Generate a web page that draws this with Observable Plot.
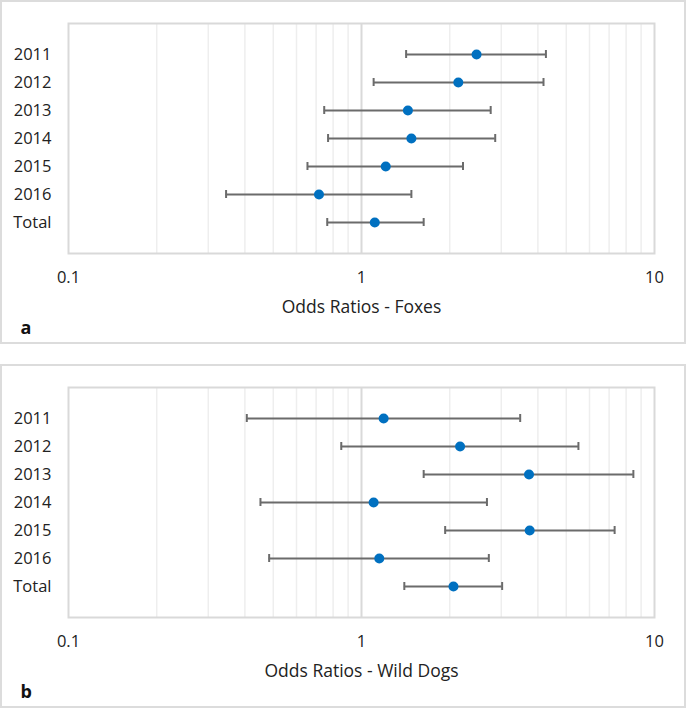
<!DOCTYPE html>
<html>
<head>
<meta charset="utf-8">
<script src="https://cdn.jsdelivr.net/npm/d3@7"></script>
<script src="https://cdn.jsdelivr.net/npm/@observablehq/plot@0.6"></script>
<style>
  html, body { margin: 0; padding: 0; background: #fff; }
  #wrap { position: relative; width: 686px; height: 708px; font-family: "Open Sans", sans-serif; }
  .panel { position: absolute; left: 0; width: 686px; height: 344px; box-sizing: border-box; border: 2px solid #dcdcdc; overflow: visible; }
  .panel svg { position: absolute; left: -2px; top: -2px; max-width: none !important; width: 686px; height: 344px; }
</style>
</head>
<body>
<div id="wrap">
  <div class="panel" id="pa" style="top:0px"></div>
  <div class="panel" id="pb" style="top:364px"></div>
</div>
<script>
const categories = ["2011", "2012", "2013", "2014", "2015", "2016", "Total"];

const foxOR   = [2.47, 2.14, 1.44, 1.48, 1.21, 0.716, 1.11];
const foxLow  = [1.42, 1.10, 0.746, 0.769, 0.654, 0.345, 0.764];
const foxHigh = [4.26, 4.18, 2.76, 2.86, 2.22, 1.48, 1.63];

const dogOR   = [1.19, 2.17, 3.73, 1.10, 3.75, 1.15, 2.06];
const dogLow  = [0.406, 0.853, 1.63, 0.452, 1.93, 0.484, 1.40];
const dogHigh = [3.48, 5.50, 8.47, 2.68, 7.31, 2.72, 3.02];

const majorTicks = [0.1, 1, 10];
const minorGrid = [0.2, 0.3, 0.4, 0.5, 0.6, 0.7, 0.8, 0.9, 2, 3, 4, 5, 6, 7, 8, 9];
const centerLine = [1];

function makePanel(or, lo, hi, title, letter) {
  const data = categories.map((c, i) => ({cat: c, or: or[i], lo: lo[i], hi: hi[i]}));
  const barColor = "#6b6b6b";
  return Plot.plot({
    width: 686,
    height: 344,
    marginLeft: 68,
    marginRight: 32,
    marginTop: 23,
    marginBottom: 91,
    style: {fontFamily: "'Open Sans', sans-serif", fontSize: "16.5px", color: "#222", background: "transparent", overflow: "visible"},
    x: {type: "log", domain: [0.1, 10]},
    y: {type: "band", domain: categories, paddingInner: 0.7217, paddingOuter: 0.8609},
    marks: [
      Plot.ruleX(minorGrid, {stroke: "#eeeeee", strokeWidth: 1.5}),
      Plot.ruleX(centerLine, {stroke: "#d9d9d9", strokeWidth: 2}),
      Plot.frame({stroke: "#d9d9d9", strokeWidth: 2}),
      Plot.axisX({ticks: majorTicks, tickSize: 0, tickPadding: 18, tickFormat: d => String(d), label: null, fontSize: 16.5}),
      Plot.axisY({tickSize: 0, tickPadding: 17, label: null, fontSize: 16.5}),
      Plot.ruleY(data, {y: "cat", x1: "lo", x2: "hi", stroke: barColor, strokeWidth: 2}),
      Plot.tickX(data, {x: "lo", y: "cat", stroke: barColor, strokeWidth: 2}),
      Plot.tickX(data, {x: "hi", y: "cat", stroke: barColor, strokeWidth: 2}),
      Plot.dot(data, {x: "or", y: "cat", r: 5, fill: "#0070c0", stroke: "none"}),
      Plot.text([title], {frameAnchor: "bottom", lineAnchor: "middle", dy: 53.5, fontSize: 17.5, fill: "#222"}),
      Plot.text([letter], {frameAnchor: "bottom-left", lineAnchor: "middle", dx: -48, dy: 75, textAnchor: "start", fontSize: 18, fontWeight: "bold", fill: "#111"})
    ]
  });
}

document.getElementById("pa").appendChild(makePanel(foxOR, foxLow, foxHigh, "Odds Ratios - Foxes", "a"));
document.getElementById("pb").appendChild(makePanel(dogOR, dogLow, dogHigh, "Odds Ratios - Wild Dogs", "b"));
</script>
</body>
</html>
